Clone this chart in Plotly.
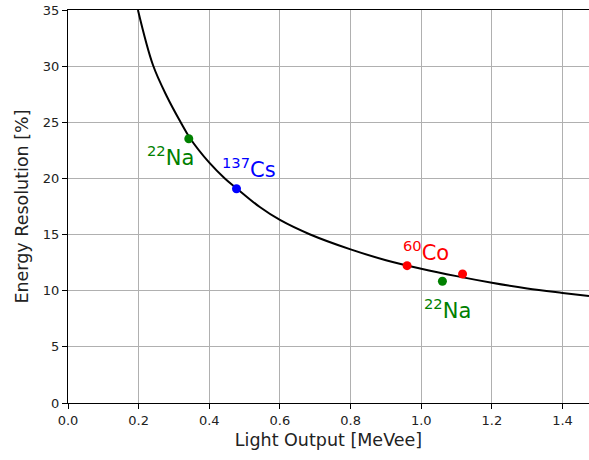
import plotly.graph_objects as go

# Resolution curve (light output in MeVee, resolution in %)
curve_x = [0.198, 0.2405, 0.280, 0.319, 0.345, 0.400, 0.444, 0.478, 0.543,
           0.600, 0.684, 0.800, 0.900, 1.000, 1.100, 1.200, 1.300, 1.400, 1.475]
curve_y = [35.0, 30.1, 27.3, 25.0, 23.6, 21.4, 20.0, 19.1, 17.45,
           16.3, 15.03, 13.68, 12.72, 11.96, 11.3, 10.71, 10.2, 9.8, 9.52]

# Measured calibration sources
na_x = [0.342, 1.060]
na_y = [23.53, 10.84]
cs_x = [0.477]
cs_y = [19.08]
co_x = [0.960, 1.117]
co_y = [12.23, 11.49]

# Source labels: (text, colour, x, y)
labels = [
    ("<sup>22</sup>Na", "#008000", 0.289, 22.0),
    ("<sup>137</sup>Cs", "#0000ff", 0.513, 20.9),
    ("<sup>60</sup>Co", "#ff0000", 1.013, 13.55),
    ("<sup>22</sup>Na", "#008000", 1.073, 8.35),
]

FONT = "DejaVu Sans"

fig = go.Figure()
fig.add_trace(go.Scatter(x=curve_x, y=curve_y, mode="lines",
                         line=dict(color="black", width=2, shape="spline", smoothing=1.0),
                         showlegend=False, hoverinfo="skip"))
fig.add_trace(go.Scatter(x=na_x, y=na_y, mode="markers",
                         marker=dict(color="#008000", size=9), showlegend=False))
fig.add_trace(go.Scatter(x=cs_x, y=cs_y, mode="markers",
                         marker=dict(color="#0000ff", size=9), showlegend=False))
fig.add_trace(go.Scatter(x=co_x, y=co_y, mode="markers",
                         marker=dict(color="#ff0000", size=9), showlegend=False))

for text, color, lx, ly in labels:
    fig.add_annotation(x=lx, y=ly, text=text, showarrow=False,
                       xanchor="center", yanchor="middle",
                       font=dict(family=FONT, size=21, color=color))

axis_common = dict(
    showline=True, linecolor="black", linewidth=1,
    ticks="outside", ticklen=5, tickwidth=1, tickcolor="black",
    showgrid=True, gridcolor="#b0b0b0", gridwidth=1,
    zeroline=False,
    tickfont=dict(family=FONT, size=13, color="#222222"),
)

fig.update_xaxes(range=[0, 1.475], dtick=0.2, tick0=0, tickformat=".1f",
                 mirror=True,
                 title=dict(text="Light Output [MeVee]",
                            font=dict(family=FONT, size=17.5, color="#222222"),
                            standoff=7),
                 **axis_common)
fig.update_yaxes(range=[0, 35], dtick=5, tick0=0,
                 title=dict(text="Energy Resolution [%]",
                            font=dict(family=FONT, size=17.5, color="#222222"),
                            standoff=9),
                 **axis_common)

fig.update_layout(
    width=589, height=460,
    margin=dict(l=68, r=0, t=10, b=57),
    plot_bgcolor="white", paper_bgcolor="white",
    font=dict(family=FONT),
)

fig.write_html("out.html")
